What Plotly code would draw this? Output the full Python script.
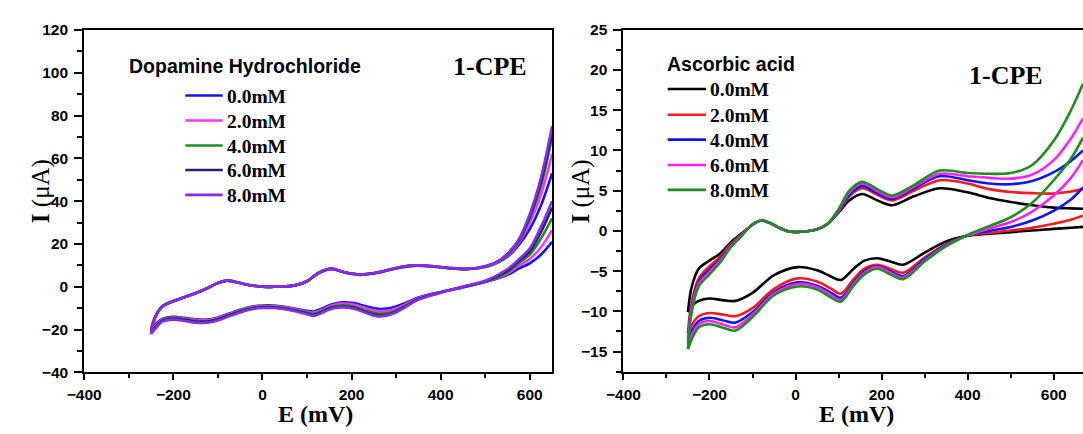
import plotly.graph_objects as go

# ---------------- Dopamine hydrochloride (left panel) ----------------
DA_LABELS = ["0.0mM", "2.0mM", "4.0mM", "6.0mM", "8.0mM"]
DA_COLORS = ["#1414f0", "#ff33ff", "#1e8c1e", "#23236e", "#8a2be8"]

# anodic (forward) sweep potentials, mV
DA_E_FWD = [-250, -240, -225, -200, -175, -150, -125, -100, -80, -60, -40, -20, 0, 25, 50, 75,
            100, 125, 155, 185, 220, 260, 300, 340, 380, 420, 460, 500, 525, 550, 575, 600, 625, 650]
DA_I_FWD_0 = [-19.5, -13.6, -9.1, -6.6, -4.8, -2.9, -0.8, 1.8, 2.9, 2.3, 1.2, 0.5, 0.1, 0.0, 0.2, 0.8,
              2.6, 6.2, 8.2, 6.6, 5.6, 6.6, 8.6, 9.8, 9.5, 8.6, 8.2, 9.3, 11.0, 14.0, 19.5, 27.0, 38.0, 53.0]
DA_I_FWD_2 = [-20.0, -13.8, -9.2, -6.7, -4.8, -2.9, -0.8, 1.8, 2.9, 2.3, 1.2, 0.5, 0.1, 0.0, 0.2, 0.8,
              2.6, 6.3, 8.3, 6.7, 5.7, 6.7, 8.7, 9.9, 9.6, 8.7, 8.3, 9.4, 11.2, 14.5, 20.5, 30.0, 43.0, 62.0]
DA_I_FWD_4 = [-20.5, -13.9, -9.2, -6.7, -4.9, -3.0, -0.8, 1.8, 2.9, 2.3, 1.2, 0.5, 0.1, 0.0, 0.2, 0.8,
              2.6, 6.4, 8.4, 6.7, 5.7, 6.7, 8.7, 9.9, 9.6, 8.7, 8.3, 9.5, 11.4, 15.0, 21.0, 32.0, 47.0, 70.0]
DA_I_FWD_6 = [-21.0, -14.0, -9.3, -6.8, -4.9, -3.0, -0.8, 1.8, 2.9, 2.3, 1.2, 0.5, 0.1, 0.0, 0.2, 0.8,
              2.6, 6.5, 8.5, 6.8, 5.8, 6.8, 8.8, 10.0, 9.7, 8.8, 8.4, 9.6, 11.5, 15.3, 21.5, 33.0, 49.0, 72.0]
DA_I_FWD_8 = [-22.0, -14.0, -9.3, -6.8, -4.9, -3.0, -0.8, 1.8, 2.9, 2.3, 1.2, 0.5, 0.1, 0.0, 0.2, 0.8,
              2.6, 6.5, 8.5, 6.8, 5.8, 6.8, 8.8, 10.0, 9.7, 8.8, 8.4, 9.6, 11.5, 15.5, 22.0, 34.0, 51.0, 75.0]

# cathodic (reverse) sweep potentials, mV
DA_E_REV = [-250, -240, -225, -200, -175, -150, -125, -100, -75, -50, -25, 0, 25, 50, 75, 100,
            115, 130, 155, 180, 205, 230, 260, 290, 320, 350, 400, 450, 500, 550, 575, 600, 625, 650]
DA_I_REV_0 = [-19.5, -17.5, -15.0, -14.0, -14.5, -15.2, -15.3, -14.3, -12.5, -10.7, -9.3, -8.7, -8.7, -9.3, -10.3, -11.2,
              -11.5, -10.5, -8.2, -7.2, -7.6, -9.0, -10.3, -9.8, -7.6, -5.0, -2.4, -0.3, 2.2, 5.6, 8.5, 11.0, 15.0, 21.0]
DA_I_REV_2 = [-20.0, -18.0, -15.3, -14.3, -14.8, -15.5, -15.6, -14.6, -12.8, -11.0, -9.6, -9.0, -9.0, -9.6, -10.6, -11.6,
              -12.0, -11.0, -8.7, -7.8, -8.3, -9.8, -11.3, -10.8, -8.3, -5.3, -2.5, -0.2, 2.4, 6.2, 9.8, 13.0, 18.5, 26.5]
DA_I_REV_4 = [-20.5, -18.5, -15.6, -14.6, -15.1, -15.9, -16.0, -15.0, -13.1, -11.3, -9.9, -9.3, -9.3, -9.9, -10.9, -12.0,
              -12.6, -11.6, -9.3, -8.6, -9.2, -10.9, -12.5, -11.8, -8.9, -5.6, -2.6, -0.1, 2.5, 6.8, 11.0, 15.0, 22.5, 32.0]
DA_I_REV_6 = [-21.0, -19.0, -15.9, -14.9, -15.4, -16.2, -16.3, -15.3, -13.4, -11.6, -10.2, -9.6, -9.6, -10.2, -11.2, -12.4,
              -13.2, -12.1, -9.8, -9.2, -9.8, -11.6, -13.3, -12.4, -9.3, -5.8, -2.7, 0.0, 2.6, 7.5, 12.0, 16.5, 25.5, 37.0]
DA_I_REV_8 = [-22.0, -19.5, -16.3, -15.3, -15.9, -16.7, -16.8, -15.7, -13.8, -12.0, -10.5, -9.9, -9.9, -10.5, -11.5, -12.8,
              -13.6, -12.5, -10.2, -9.6, -10.2, -12.0, -13.8, -12.8, -9.6, -6.0, -2.8, 0.1, 2.8, 8.3, 12.8, 18.0, 28.0, 40.0]

DA_FWD = [DA_I_FWD_0, DA_I_FWD_2, DA_I_FWD_4, DA_I_FWD_6, DA_I_FWD_8]
DA_REV = [DA_I_REV_0, DA_I_REV_2, DA_I_REV_4, DA_I_REV_6, DA_I_REV_8]

# ---------------- Ascorbic acid (right panel) ----------------
AA_LABELS = ["0.0mM", "2.0mM", "4.0mM", "6.0mM", "8.0mM"]
AA_COLORS = ["#000000", "#ff1a1a", "#1414f0", "#ff22ff", "#1e8c1e"]

AA_E_FWD = [-250, -242, -225, -200, -175, -150, -125, -100, -80, -60, -40, -20, 0, 25, 50, 75,
            100, 125, 155, 190, 225, 275, 335, 400, 450, 500, 550, 600, 640, 668]
AA_I_FWD_0 = [-10.1, -7.1, -4.7, -3.7, -2.8, -1.4, -0.3, 0.8, 1.3, 1.0, 0.45, 0.0, -0.15, -0.05, 0.2, 0.9,
              2.3, 3.8, 4.6, 3.8, 3.2, 4.3, 5.3, 4.8, 4.1, 3.6, 3.2, 2.9, 2.8, 2.75]
AA_I_FWD_2 = [-12.7, -9.0, -5.9, -4.4, -3.2, -1.6, -0.4, 0.8, 1.3, 1.0, 0.45, 0.0, -0.15, -0.05, 0.2, 0.9,
              2.4, 4.3, 5.3, 4.5, 3.8, 5.0, 6.3, 5.9, 5.2, 4.85, 4.7, 4.65, 4.9, 5.2]
AA_I_FWD_4 = [-13.5, -9.5, -6.3, -4.8, -3.5, -1.8, -0.5, 0.8, 1.3, 1.0, 0.45, 0.0, -0.15, -0.05, 0.2, 0.9,
              2.5, 4.5, 5.6, 4.7, 4.0, 5.3, 6.8, 6.3, 5.9, 5.8, 6.2, 7.3, 8.7, 10.0]
AA_I_FWD_6 = [-14.0, -9.8, -6.6, -5.1, -3.7, -1.9, -0.5, 0.8, 1.3, 1.0, 0.45, 0.0, -0.15, -0.05, 0.2, 0.9,
              2.6, 4.8, 5.9, 5.0, 4.2, 5.5, 7.1, 6.8, 6.6, 6.5, 7.0, 8.8, 11.5, 14.0]
AA_I_FWD_8 = [-14.7, -10.3, -6.9, -5.4, -3.9, -2.0, -0.6, 0.8, 1.3, 1.0, 0.45, 0.0, -0.15, -0.05, 0.2, 0.9,
              2.7, 5.0, 6.1, 5.2, 4.4, 5.7, 7.5, 7.2, 7.1, 7.2, 8.2, 11.2, 15.0, 18.3]

AA_E_REV = [-250, -240, -225, -200, -170, -140, -100, -50, 5, 50, 80, 105, 135, 160, 190, 220,
            250, 300, 350, 400, 450, 500, 550, 600, 640, 668]
AA_I_REV_0 = [-10.1, -9.3, -8.7, -8.4, -8.6, -8.7, -7.7, -5.5, -4.5, -4.9, -5.6, -6.1, -4.7, -3.7, -3.4, -3.8,
              -4.2, -2.7, -1.3, -0.6, -0.35, -0.15, 0.05, 0.25, 0.4, 0.5]
AA_I_REV_2 = [-12.7, -11.6, -10.6, -10.2, -10.4, -10.6, -9.6, -7.2, -5.9, -6.3, -7.1, -7.8, -6.0, -4.7, -4.2, -4.7,
              -5.2, -3.3, -1.6, -0.6, -0.25, 0.05, 0.4, 0.9, 1.4, 1.9]
AA_I_REV_4 = [-13.5, -12.3, -11.2, -10.8, -11.1, -11.4, -10.1, -7.6, -6.4, -6.8, -7.6, -8.3, -6.4, -5.0, -4.4, -5.0,
              -5.6, -3.5, -1.7, -0.55, 0.0, 0.5, 1.3, 2.5, 3.9, 5.4]
AA_I_REV_6 = [-14.0, -12.8, -11.6, -11.2, -11.6, -12.0, -10.4, -7.8, -6.6, -7.0, -7.9, -8.6, -6.6, -5.2, -4.5, -5.2,
              -5.8, -3.7, -1.8, -0.55, 0.3, 1.1, 2.4, 4.4, 6.6, 8.8]
AA_I_REV_8 = [-14.7, -13.3, -12.0, -11.6, -12.0, -12.4, -10.7, -8.0, -6.9, -7.3, -8.2, -8.8, -6.8, -5.4, -4.7, -5.4,
              -6.0, -3.8, -1.9, -0.5, 0.6, 1.7, 3.5, 6.3, 9.0, 11.6]

AA_FWD = [AA_I_FWD_0, AA_I_FWD_2, AA_I_FWD_4, AA_I_FWD_6, AA_I_FWD_8]
AA_REV = [AA_I_REV_0, AA_I_REV_2, AA_I_REV_4, AA_I_REV_6, AA_I_REV_8]

# ---------------- page geometry ----------------
W, H = 1083, 434
SANS = "Liberation Sans, Arial, sans-serif"
SERIF = "Liberation Serif, Times New Roman, serif"


def px(x):
    return x / W


def py(y):
    return 1 - y / H


fig = go.Figure()


def add_voltammogram(e_fwd, fwd, e_rev, rev, labels, colors, xa, ya):
    for i_f, i_r, name, col in zip(fwd, rev, labels, colors):
        fig.add_trace(go.Scatter(
            x=list(e_fwd) + [None] + list(e_rev),
            y=list(i_f) + [None] + list(i_r),
            mode="lines", name=name, showlegend=False,
            line=dict(color=col, width=2.6, shape="spline", smoothing=0.9),
            xaxis=xa, yaxis=ya, cliponaxis=True,
        ))


add_voltammogram(DA_E_FWD, DA_FWD, DA_E_REV, DA_REV, DA_LABELS, DA_COLORS, "x", "y")
add_voltammogram(AA_E_FWD, AA_FWD, AA_E_REV, AA_REV, AA_LABELS, AA_COLORS, "x2", "y2")

tickfont = dict(family=SANS, size=15.5, color="black", weight="bold")
axis_common = dict(
    showline=True, linewidth=2, linecolor="black", showgrid=False, zeroline=False,
    ticks="outside", tickwidth=2, tickcolor="black", tickfont=tickfont,
)
x_minor = dict(dtick=100, ticklen=4, tickwidth=2, tickcolor="black", ticks="outside")
y_dom = [py(378.3), py(21.7)]

fig.update_layout(
    width=W, height=H, margin=dict(l=0, r=0, t=0, b=0),
    paper_bgcolor="white", plot_bgcolor="white",
    xaxis=dict(domain=[px(68.3), px(543.6)], range=[-400, 650], tick0=-400, dtick=200, mirror=True,
               ticklen=6, ticklabelstandoff=1, minor=x_minor, anchor="y", **axis_common),
    yaxis=dict(domain=y_dom, range=[-40, 120], tick0=-40, dtick=20, mirror=True,
               ticklen=8, ticklabelstandoff=3,
               minor=dict(dtick=10, ticklen=5, tickwidth=2, tickcolor="black", ticks="outside"),
               anchor="x", **axis_common),
    xaxis2=dict(domain=[px(616.1), 1.0], range=[-400, 668], tick0=-400, dtick=200, mirror=True,
                ticklen=6, ticklabelstandoff=1, minor=x_minor, anchor="y2", **axis_common),
    yaxis2=dict(domain=y_dom, range=[-17.6, 25], tick0=-15, dtick=5, mirror=False,
                ticklen=8, ticklabelstandoff=3,
                minor=dict(dtick=2.5, ticklen=5, tickwidth=2, tickcolor="black", ticks="outside"),
                anchor="x2", **axis_common),
)

annotations = []
shapes = []


def text(x, y, s, font, xanchor="center", yanchor="middle", angle=0):
    annotations.append(dict(x=px(x), y=py(y), xref="paper", yref="paper", text=s, showarrow=False,
                            xanchor=xanchor, yanchor=yanchor, textangle=angle, font=font,
                            borderpad=0))


# axis titles
title_font = dict(family=SERIF, size=24, color="black")
text(303, 422, "<b>E (mV)</b>", title_font)
text(853, 422, "<b>E (mV)</b>", title_font)
text(24, 190, "<b>I</b> (μA)", dict(family=SERIF, size=25, color="black"), angle=-90)
text(573, 190, "<b>I</b> (μA)", dict(family=SERIF, size=25, color="black"), angle=-90)

# panel tags
tag_font = dict(family=SERIF, size=26, color="black", weight="bold")
text(481, 60, "1-CPE", tag_font)
text(1005, 69, "1-CPE", tag_font)

# legends (title + line samples + labels)
head_font = dict(family=SANS, size=19.5, color="black", weight="bold")
item_font = dict(family=SERIF, size=19.5, color="black", weight="bold")


def legend(title, tx, ty, x0, x1, rows, labels, colors):
    text(tx, ty, title, head_font, xanchor="left")
    for yy, lab, col in zip(rows, labels, colors):
        shapes.append(dict(type="line", xref="paper", yref="paper", x0=px(x0), x1=px(x1),
                           y0=py(yy), y1=py(yy), line=dict(color=col, width=2.6)))
        text(x1 + 3, yy + 1, lab, item_font, xanchor="left")


legend("Dopamine Hydrochloride", 113, 59, 171, 209,
       [90, 116, 142, 167.5, 193.5], DA_LABELS, DA_COLORS)
legend("Ascorbic acid", 659, 57, 661, 700,
       [83.3, 110, 136, 162.3, 188.3], AA_LABELS, AA_COLORS)

fig.update_layout(annotations=annotations, shapes=shapes)
fig.write_html("out.html")
